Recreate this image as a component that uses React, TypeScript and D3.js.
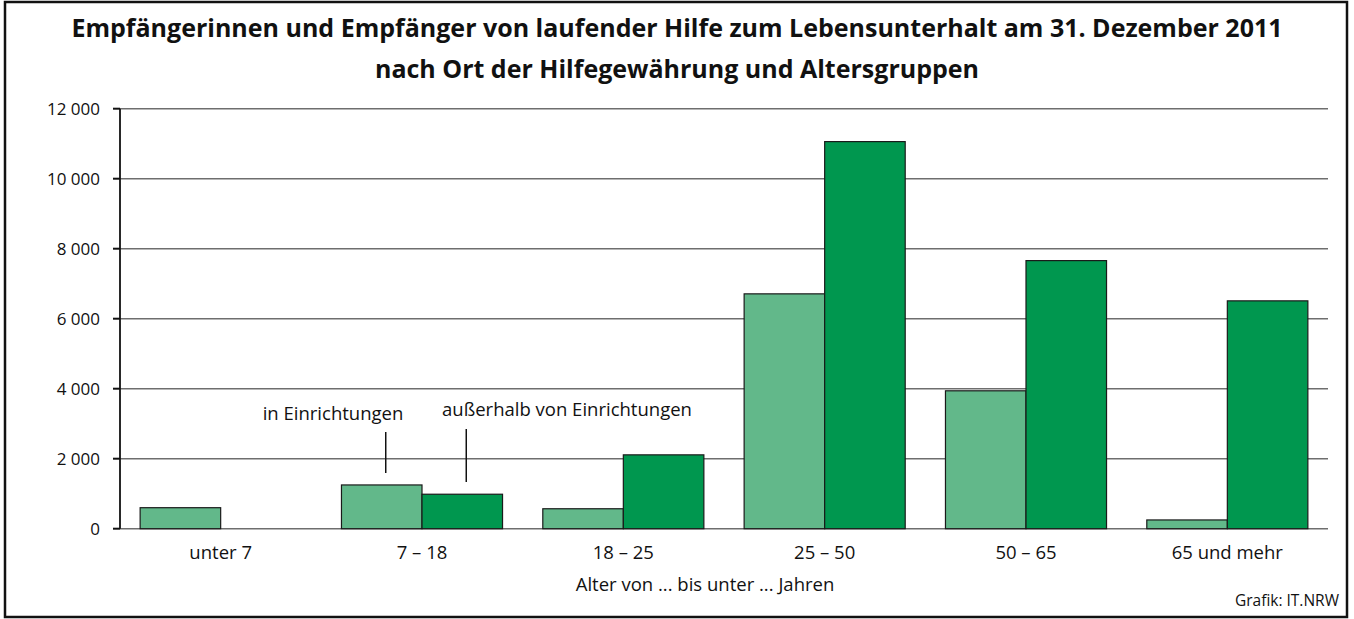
import { useEffect, useRef } from "react";
import { select, scaleBand, scaleLinear, range } from "d3";

const CATEGORIES = ["unter 7", "7 – 18", "18 – 25", "25 – 50", "50 – 65", "65 und mehr"];
const SERIES = ["in Einrichtungen", "außerhalb von Einrichtungen"];
const IN_EINRICHTUNGEN = [600, 1250, 570, 6710, 3940, 250];
const AUSSERHALB = [0, 985, 2110, 11060, 7660, 6510];
const Y_TICKS = [0, 2000, 4000, 6000, 8000, 10000, 12000];

const WIDTH = 1354;
const HEIGHT = 619;
const PLOT = { left: 120, right: 1328, top: 108.7, bottom: 528.7 };

const LIGHT = "#62b88a";
const DARK = "#00974f";
const GRID = "#6e6e6e";
const FONT = "'Open Sans', 'Noto Sans', sans-serif";
const LABEL_SIZE = "18.5px";

const fmt = (v: number) => {
  const s = String(v);
  return s.length > 3 ? s.slice(0, s.length - 3) + "\u00a0" + s.slice(-3) : s;
};

export default function App() {
  const svgRef = useRef<SVGSVGElement>(null);

  useEffect(() => {
    const svg = select(svgRef.current);
    svg.selectAll("*").remove();

    const x = scaleBand<string>()
      .domain(CATEGORIES)
      .range([PLOT.left, PLOT.right])
      .paddingInner(0.2)
      .paddingOuter(0.1);
    const xSub = scaleBand<string>().domain(SERIES).range([0, x.bandwidth()]);
    const y = scaleLinear().domain([0, 12000]).range([PLOT.bottom, PLOT.top]);

    // frame
    svg.append("rect")
      .attr("x", 5).attr("y", 2)
      .attr("width", 1342).attr("height", 615)
      .attr("fill", "#fff")
      .attr("stroke", "#111")
      .attr("stroke-width", 2.5);

    // title
    const title = svg.append("text")
      .attr("text-anchor", "middle")
      .attr("font-family", FONT)
      .attr("font-weight", 700)
      .attr("font-size", "25px")
      .attr("fill", "#111");
    title.append("tspan").attr("x", 677).attr("y", 37)
      .text("Empfängerinnen und Empfänger von laufender Hilfe zum Lebensunterhalt am 31. Dezember 2011");
    title.append("tspan").attr("x", 677).attr("y", 78)
      .text("nach Ort der Hilfegewährung und Altersgruppen");

    // gridlines, ticks, tick labels
    Y_TICKS.forEach((t) => {
      svg.append("line")
        .attr("x1", PLOT.left).attr("x2", PLOT.right)
        .attr("y1", y(t)).attr("y2", y(t))
        .attr("stroke", GRID)
        .attr("stroke-width", 1.5);
      svg.append("line")
        .attr("x1", PLOT.left - 7).attr("x2", PLOT.left)
        .attr("y1", y(t)).attr("y2", y(t))
        .attr("stroke", "#111")
        .attr("stroke-width", 2);
      svg.append("text")
        .attr("x", 100).attr("y", y(t))
        .attr("dy", "0.35em")
        .attr("text-anchor", "end")
        .attr("font-family", FONT)
        .attr("font-size", "17px")
        .attr("fill", "#111")
        .text(fmt(t));
    });

    // bars
    const values = [IN_EINRICHTUNGEN, AUSSERHALB];
    const colors = [LIGHT, DARK];
    SERIES.forEach((s, si) => {
      range(CATEGORIES.length).forEach((i) => {
        const v = values[si][i];
        if (v <= 0) return;
        svg.append("rect")
          .attr("x", (x(CATEGORIES[i]) ?? 0) + (xSub(s) ?? 0))
          .attr("y", y(v))
          .attr("width", xSub.bandwidth())
          .attr("height", y(0) - y(v))
          .attr("fill", colors[si])
          .attr("stroke", "#1a1a1a")
          .attr("stroke-width", 1.2);
      });
    });

    // y axis line
    svg.append("line")
      .attr("x1", PLOT.left).attr("x2", PLOT.left)
      .attr("y1", y(12000)).attr("y2", y(0))
      .attr("stroke", "#111")
      .attr("stroke-width", 1.8);

    // category labels
    CATEGORIES.forEach((c) => {
      svg.append("text")
        .attr("x", (x(c) ?? 0) + x.bandwidth() / 2)
        .attr("y", 559)
        .attr("text-anchor", "middle")
        .attr("font-family", FONT)
        .attr("font-size", LABEL_SIZE)
        .attr("fill", "#111")
        .text(c);
    });

    svg.append("text")
      .attr("x", 705).attr("y", 591)
      .attr("text-anchor", "middle")
      .attr("font-family", FONT)
      .attr("font-size", LABEL_SIZE)
      .attr("fill", "#111")
      .text("Alter von ... bis unter ... Jahren");

    // series annotations on the 7 – 18 group
    const annCat = CATEGORIES[1];
    const annY = [420, 416];
    const leader = [[432, 473], [429, 482]];
    SERIES.forEach((s, si) => {
      const cx = (x(annCat) ?? 0) + (xSub(s) ?? 0) + xSub.bandwidth() / 2 + 4;
      svg.append("line")
        .attr("x1", cx).attr("x2", cx)
        .attr("y1", leader[si][0]).attr("y2", leader[si][1])
        .attr("stroke", "#111")
        .attr("stroke-width", 1.5);
      svg.append("text")
        .attr("x", si === 0 ? 333 : 567)
        .attr("y", annY[si])
        .attr("text-anchor", "middle")
        .attr("font-family", FONT)
        .attr("font-size", LABEL_SIZE)
        .attr("fill", "#111")
        .text(s);
    });

    svg.append("text")
      .attr("x", 1339).attr("y", 606)
      .attr("text-anchor", "end")
      .attr("font-family", FONT)
      .attr("font-size", "15.5px")
      .attr("fill", "#111")
      .text("Grafik: IT.NRW");
  }, []);

  return (
    <svg
      ref={svgRef}
      width={WIDTH}
      height={HEIGHT}
      style={{ position: "absolute", left: 0, top: 0, display: "block" }}
    />
  );
}
